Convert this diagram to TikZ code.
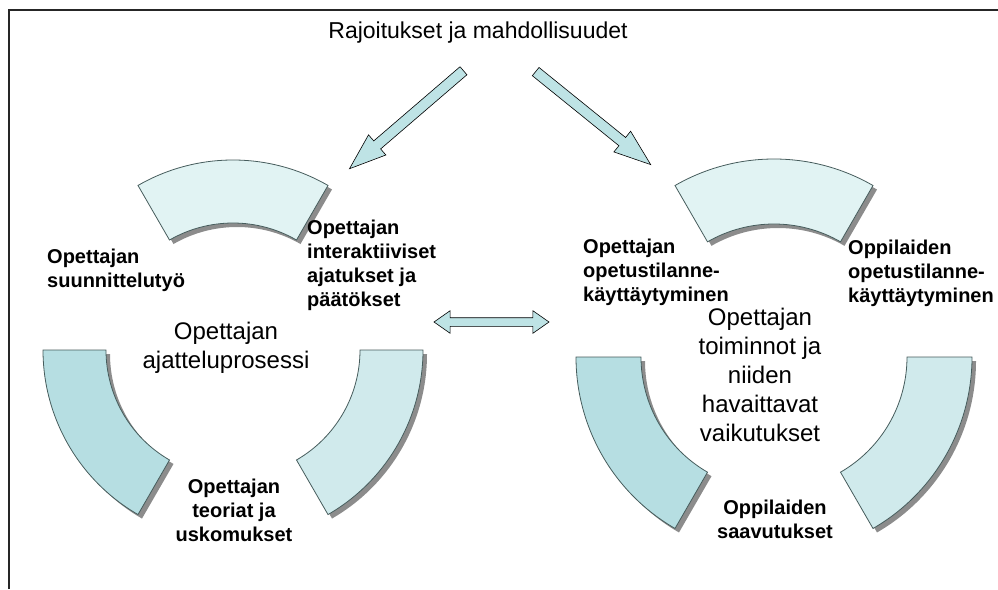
\documentclass[tikz,border=0pt]{standalone}
\usepackage{fontspec}
\setmainfont{Liberation Sans}
\usetikzlibrary{arrows}
\usetikzlibrary{positioning}
\usetikzlibrary{shapes}
\usetikzlibrary{calc}

\definecolor{segA}{RGB}{225,243,243}
\definecolor{segB}{RGB}{182,222,226}
\definecolor{segC}{RGB}{208,234,236}
\definecolor{arrfill}{RGB}{190,227,229}
\definecolor{rim}{RGB}{70,92,92}

\begin{document}
\begin{tikzpicture}
        [x=1pt,y=-1pt,
        segment/.style={draw=rim,line width=0.8pt},
        shade/.style={fill=black!45},
        tag/.style={font=\fontsize{20}{24}\selectfont\bfseries,inner sep=0,align=left},
        tagc/.style={tag,align=center},
        inner/.style={font=\fontsize{24}{29}\selectfont,inner sep=0,align=center},
        bigarrow/.style={single arrow,draw=black,fill=arrfill,semithick,inner xsep=0,inner ysep=5,
                minimum width=26,single arrow head extend=8,single arrow tip angle=40,
                sloped,allow upside down},
        twoway/.style={double arrow,draw=black,fill=arrfill,semithick,inner xsep=0,inner ysep=4,
                minimum width=22,double arrow head extend=7,double arrow tip angle=70}]

\useasboundingbox (0,0) rectangle (998,589);

% Frame %
\draw[black!85,line width=1.4pt] (9,589) -- (9,10) -- (998,10);

% Segments %
\foreach \cx/\cy/\R/\r in {233/350/190/127, 774/357/198/133} {
 \foreach \s/\e/\c in {-120/-60/segA, 120/180/segB, 0/60/segC} {
  \fill[shade,shift={(\cx+4,\cy+4)}] (\s:\R) arc[start angle=\s,end angle=\e,radius=\R]
        -- (\e:\r) arc[start angle=\e,end angle=\s,radius=\r] -- cycle;
  \filldraw[segment,fill=\c,shift={(\cx,\cy)}] (\s:\R) arc[start angle=\s,end angle=\e,radius=\R]
        -- (\e:\r) arc[start angle=\e,end angle=\s,radius=\r] -- cycle;}}

% Texts %
\node[font=\fontsize{23}{27}\selectfont,inner sep=0] (title) at (478,33) {Rajoitukset ja mahdollisuudet};

\node[tag,anchor=west] (plan) at (47,270) {Opettajan\\suunnittelutyö};
\node[tag,anchor=west] (inter) at (307,265) {Opettajan\\interaktiiviset\\ajatukset ja\\päätökset};
\node[inner] (think) at (226,348) {Opettajan\\ajatteluprosessi};
\node[tagc] (theory) at (234,510) {Opettajan\\teoriat ja\\uskomukset};

\node[tag,anchor=west] (tbeh) at (583,272) {Opettajan\\opetustilanne-\\käyttäytyminen};
\node[tag,anchor=west] (pbeh) at (848,273) {Oppilaiden\\opetustilanne-\\käyttäytyminen};
\node[inner] (act) at (760,375) {Opettajan\\toiminnot ja\\niiden\\havaittavat\\vaikutukset};
\node[tagc] (achv) at (775,519) {Oppilaiden\\saavutukset};

% Pfeile %
\coordinate (lt) at (469,66);
\coordinate (lh) at (355,164);
\coordinate (rt) at (530,67);
\coordinate (rh) at (645,160);
\coordinate (dl) at (434,322);
\coordinate (dr) at (549,322);

\path let \p1=($(lh)-(lt)$), \n1={veclen(\x1,\y1)} in
        (lt) -- (lh) node[bigarrow,pos=.5,minimum height=\n1] (arrL) {};
\path let \p1=($(rh)-(rt)$), \n1={veclen(\x1,\y1)} in
        (rt) -- (rh) node[bigarrow,pos=.5,minimum height=\n1] (arrR) {};
\path let \p1=($(dr)-(dl)$), \n1={veclen(\x1,\y1)} in
        (dl) -- (dr) node[twoway,pos=.5,minimum height=\n1] (arrD) {};
\end{tikzpicture}
\end{document}
